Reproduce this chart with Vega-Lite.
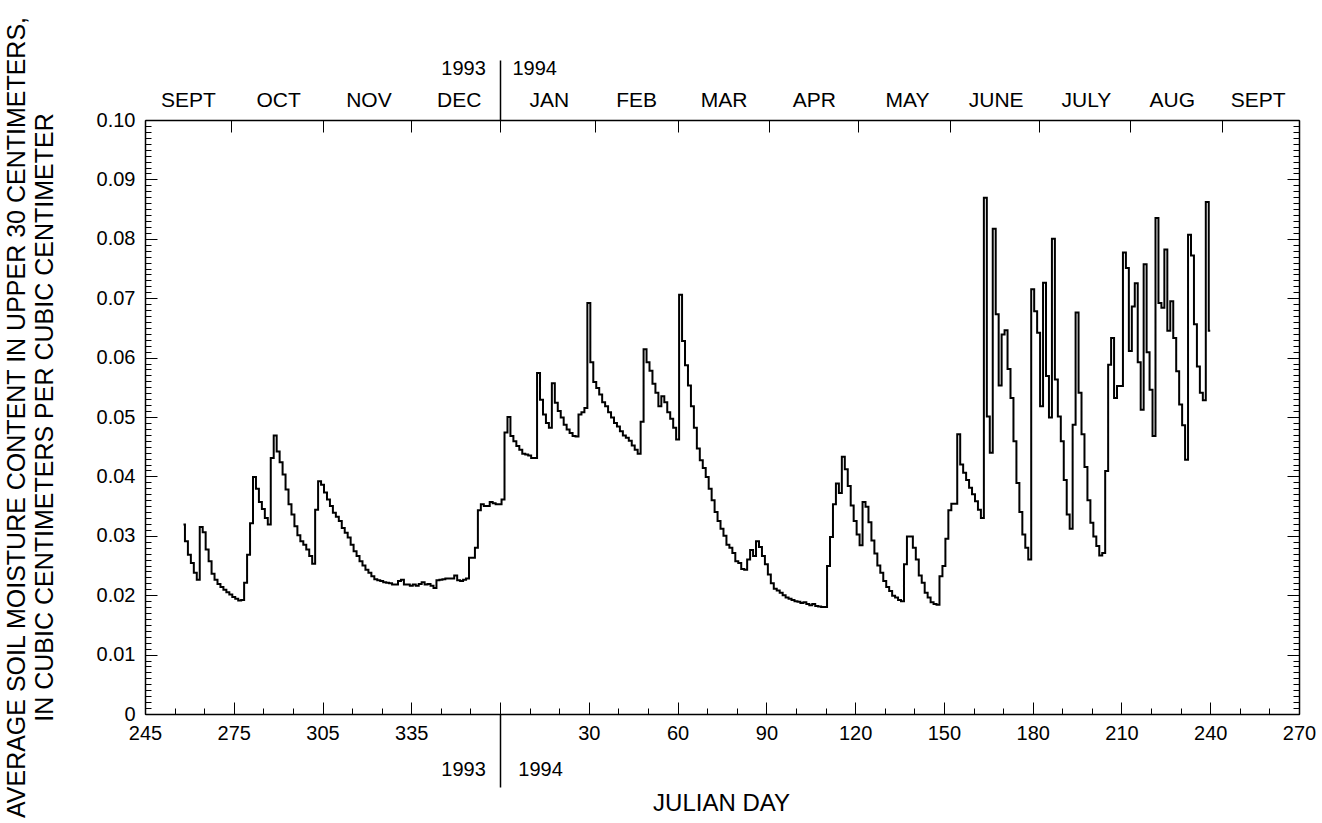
{
  "$schema": "https://vega.github.io/schema/vega-lite/v6.json",
  "width": 1154,
  "height": 594,
  "autosize": {"type": "none"},
  "padding": {"left": 145, "top": 120, "right": 23, "bottom": 109},
  "background": "white",
  "datasets": {
    "moisture": [
      {"day":258,"value":0.0319},{"day":259,"value":0.0291},{"day":260,"value":0.0268},{"day":261,"value":0.0254},{"day":262,"value":0.0238},{"day":263,"value":0.0226},{"day":264,"value":0.0315},{"day":265,"value":0.0306},{"day":266,"value":0.0277},{"day":267,"value":0.0257},{"day":268,"value":0.0236},{"day":269,"value":0.0226},{"day":270,"value":0.0219},{"day":271,"value":0.0214},{"day":272,"value":0.0209},{"day":273,"value":0.0205},{"day":274,"value":0.0201},{"day":275,"value":0.0197},{"day":276,"value":0.0194},{"day":277,"value":0.0191},{"day":278,"value":0.0192},{"day":279,"value":0.0221},
      {"day":280,"value":0.0268},{"day":281,"value":0.0321},{"day":282,"value":0.0399},{"day":283,"value":0.0379},{"day":284,"value":0.0357},{"day":285,"value":0.0345},{"day":286,"value":0.0330},{"day":287,"value":0.0319},{"day":288,"value":0.0431},{"day":289,"value":0.0469},{"day":290,"value":0.0442},{"day":291,"value":0.0424},{"day":292,"value":0.0403},{"day":293,"value":0.0378},{"day":294,"value":0.0353},{"day":295,"value":0.0336},{"day":296,"value":0.0316},{"day":297,"value":0.0301},{"day":298,"value":0.0291},{"day":299,"value":0.0285},
      {"day":300,"value":0.0277},{"day":301,"value":0.0266},{"day":302,"value":0.0253},{"day":303,"value":0.0344},{"day":304,"value":0.0392},{"day":305,"value":0.0386},{"day":306,"value":0.0373},{"day":307,"value":0.0361},{"day":308,"value":0.0350},{"day":309,"value":0.0339},{"day":310,"value":0.0332},{"day":311,"value":0.0325},{"day":312,"value":0.0313},{"day":313,"value":0.0305},{"day":314,"value":0.0297},{"day":315,"value":0.0285},{"day":316,"value":0.0274},{"day":317,"value":0.0266},{"day":318,"value":0.0257},{"day":319,"value":0.0250},
      {"day":320,"value":0.0243},{"day":321,"value":0.0238},{"day":322,"value":0.0232},{"day":323,"value":0.0227},{"day":324,"value":0.0225},{"day":325,"value":0.0224},{"day":326,"value":0.0222},{"day":327,"value":0.0221},{"day":328,"value":0.0220},{"day":329,"value":0.0218},{"day":330,"value":0.0218},{"day":331,"value":0.0224},{"day":332,"value":0.0226},{"day":333,"value":0.0218},{"day":334,"value":0.0218},{"day":335,"value":0.0216},{"day":336,"value":0.0218},{"day":337,"value":0.0216},{"day":338,"value":0.0219},{"day":339,"value":0.0222},
      {"day":340,"value":0.0218},{"day":341,"value":0.0219},{"day":342,"value":0.0216},{"day":343,"value":0.0212},{"day":344,"value":0.0225},{"day":345,"value":0.0226},{"day":346,"value":0.0227},{"day":347,"value":0.0228},{"day":348,"value":0.0228},{"day":349,"value":0.0228},{"day":350,"value":0.0233},{"day":351,"value":0.0225},{"day":352,"value":0.0224},{"day":353,"value":0.0226},{"day":354,"value":0.0228},{"day":355,"value":0.0263},{"day":356,"value":0.0263},{"day":357,"value":0.0280},{"day":358,"value":0.0343},{"day":359,"value":0.0353},
      {"day":360,"value":0.0350},{"day":361,"value":0.0350},{"day":362,"value":0.0357},{"day":363,"value":0.0355},{"day":364,"value":0.0353},{"day":365,"value":0.0353},{"day":366,"value":0.0361},{"day":367,"value":0.0474},{"day":368,"value":0.0500},{"day":369,"value":0.0468},{"day":370,"value":0.0459},{"day":371,"value":0.0451},{"day":372,"value":0.0445},{"day":373,"value":0.0438},{"day":374,"value":0.0437},{"day":375,"value":0.0435},{"day":376,"value":0.0431},{"day":377,"value":0.0431},{"day":378,"value":0.0574},{"day":379,"value":0.0529},
      {"day":380,"value":0.0504},{"day":381,"value":0.0490},{"day":382,"value":0.0482},{"day":383,"value":0.0557},{"day":384,"value":0.0524},{"day":385,"value":0.0510},{"day":386,"value":0.0499},{"day":387,"value":0.0487},{"day":388,"value":0.0479},{"day":389,"value":0.0473},{"day":390,"value":0.0468},{"day":391,"value":0.0467},{"day":392,"value":0.0504},{"day":393,"value":0.0508},{"day":394,"value":0.0515},{"day":395,"value":0.0692},{"day":396,"value":0.0592},{"day":397,"value":0.0559},{"day":398,"value":0.0549},{"day":399,"value":0.0538},
      {"day":400,"value":0.0525},{"day":401,"value":0.0518},{"day":402,"value":0.0508},{"day":403,"value":0.0499},{"day":404,"value":0.0490},{"day":405,"value":0.0484},{"day":406,"value":0.0476},{"day":407,"value":0.0469},{"day":408,"value":0.0465},{"day":409,"value":0.0460},{"day":410,"value":0.0452},{"day":411,"value":0.0445},{"day":412,"value":0.0438},{"day":413,"value":0.0492},{"day":414,"value":0.0614},{"day":415,"value":0.0592},{"day":416,"value":0.0578},{"day":417,"value":0.0556},{"day":418,"value":0.0541},{"day":419,"value":0.0518},
      {"day":420,"value":0.0535},{"day":421,"value":0.0525},{"day":422,"value":0.0508},{"day":423,"value":0.0497},{"day":424,"value":0.0482},{"day":425,"value":0.0462},{"day":426,"value":0.0706},{"day":427,"value":0.0628},{"day":428,"value":0.0587},{"day":429,"value":0.0553},{"day":430,"value":0.0518},{"day":431,"value":0.0482},{"day":432,"value":0.0447},{"day":433,"value":0.0427},{"day":434,"value":0.0414},{"day":435,"value":0.0399},{"day":436,"value":0.0379},{"day":437,"value":0.0360},{"day":438,"value":0.0340},{"day":439,"value":0.0325},
      {"day":440,"value":0.0312},{"day":441,"value":0.0300},{"day":442,"value":0.0285},{"day":443,"value":0.0280},{"day":444,"value":0.0271},{"day":445,"value":0.0257},{"day":446,"value":0.0254},{"day":447,"value":0.0244},{"day":448,"value":0.0243},{"day":449,"value":0.0260},{"day":450,"value":0.0276},{"day":451,"value":0.0266},{"day":452,"value":0.0291},{"day":453,"value":0.0281},{"day":454,"value":0.0266},{"day":455,"value":0.0252},{"day":456,"value":0.0235},{"day":457,"value":0.0220},{"day":458,"value":0.0211},{"day":459,"value":0.0208},
      {"day":460,"value":0.0204},{"day":461,"value":0.0200},{"day":462,"value":0.0196},{"day":463,"value":0.0194},{"day":464,"value":0.0192},{"day":465,"value":0.0190},{"day":466,"value":0.0189},{"day":467,"value":0.0187},{"day":468,"value":0.0188},{"day":469,"value":0.0185},{"day":470,"value":0.0183},{"day":471,"value":0.0185},{"day":472,"value":0.0182},{"day":473,"value":0.0181},{"day":474,"value":0.0180},{"day":475,"value":0.0180},{"day":476,"value":0.0249},{"day":477,"value":0.0298},{"day":478,"value":0.0353},{"day":479,"value":0.0388},
      {"day":480,"value":0.0372},{"day":481,"value":0.0433},{"day":482,"value":0.0412},{"day":483,"value":0.0384},{"day":484,"value":0.0351},{"day":485,"value":0.0325},{"day":486,"value":0.0302},{"day":487,"value":0.0284},{"day":488,"value":0.0357},{"day":489,"value":0.0349},{"day":490,"value":0.0323},{"day":491,"value":0.0292},{"day":492,"value":0.0270},{"day":493,"value":0.0250},{"day":494,"value":0.0238},{"day":495,"value":0.0224},{"day":496,"value":0.0214},{"day":497,"value":0.0207},{"day":498,"value":0.0199},{"day":499,"value":0.0196},
      {"day":500,"value":0.0192},{"day":501,"value":0.0190},{"day":502,"value":0.0252},{"day":503,"value":0.0299},{"day":504,"value":0.0299},{"day":505,"value":0.0280},{"day":506,"value":0.0260},{"day":507,"value":0.0233},{"day":508,"value":0.0221},{"day":509,"value":0.0204},{"day":510,"value":0.0196},{"day":511,"value":0.0188},{"day":512,"value":0.0185},{"day":513,"value":0.0184},{"day":514,"value":0.0232},{"day":515,"value":0.0249},{"day":516,"value":0.0295},{"day":517,"value":0.0343},{"day":518,"value":0.0354},{"day":519,"value":0.0354},
      {"day":520,"value":0.0471},{"day":521,"value":0.0420},{"day":522,"value":0.0406},{"day":523,"value":0.0394},{"day":524,"value":0.0381},{"day":525,"value":0.0370},{"day":526,"value":0.0358},{"day":527,"value":0.0344},{"day":528,"value":0.0330},{"day":529,"value":0.0869},{"day":530,"value":0.0501},{"day":531,"value":0.0440},{"day":532,"value":0.0817},{"day":533,"value":0.0673},{"day":534,"value":0.0553},{"day":535,"value":0.0639},{"day":536,"value":0.0646},{"day":537,"value":0.0581},{"day":538,"value":0.0532},{"day":539,"value":0.0459},
      {"day":540,"value":0.0389},{"day":541,"value":0.0340},{"day":542,"value":0.0302},{"day":543,"value":0.0280},{"day":544,"value":0.0260},{"day":545,"value":0.0715},{"day":546,"value":0.0678},{"day":547,"value":0.0642},{"day":548,"value":0.0518},{"day":549,"value":0.0726},{"day":550,"value":0.0569},{"day":551,"value":0.0499},{"day":552,"value":0.0800},{"day":553,"value":0.0563},{"day":554,"value":0.0501},{"day":555,"value":0.0459},{"day":556,"value":0.0394},{"day":557,"value":0.0336},{"day":558,"value":0.0312},{"day":559,"value":0.0487},
      {"day":560,"value":0.0676},{"day":561,"value":0.0541},{"day":562,"value":0.0471},{"day":563,"value":0.0416},{"day":564,"value":0.0360},{"day":565,"value":0.0322},{"day":566,"value":0.0299},{"day":567,"value":0.0283},{"day":568,"value":0.0267},{"day":569,"value":0.0271},{"day":570,"value":0.0409},{"day":571,"value":0.0588},{"day":572,"value":0.0633},{"day":573,"value":0.0532},{"day":574,"value":0.0552},{"day":575,"value":0.0552},{"day":576,"value":0.0777},{"day":577,"value":0.0751},{"day":578,"value":0.0611},{"day":579,"value":0.0686},
      {"day":580,"value":0.0725},{"day":581,"value":0.0592},{"day":582,"value":0.0512},{"day":583,"value":0.0757},{"day":584,"value":0.0609},{"day":585,"value":0.0546},{"day":586,"value":0.0468},{"day":587,"value":0.0835},{"day":588,"value":0.0692},{"day":589,"value":0.0684},{"day":590,"value":0.0782},{"day":591,"value":0.0645},{"day":592,"value":0.0695},{"day":593,"value":0.0633},{"day":594,"value":0.0577},{"day":595,"value":0.0521},{"day":596,"value":0.0486},{"day":597,"value":0.0428},{"day":598,"value":0.0807},{"day":599,"value":0.0772},
      {"day":600,"value":0.0656},{"day":601,"value":0.0585},{"day":602,"value":0.0541},{"day":603,"value":0.0528},{"day":604,"value":0.0862},{"day":605,"value":0.0645}
    ],
    "anchor": [{"day": 245, "value": 0}]
  },
  "config": {
    "view": {"stroke": null},
    "axis": {
      "grid": false,
      "labelFont": "Liberation Sans",
      "titleFont": "Liberation Sans",
      "labelColor": "black",
      "titleColor": "black",
      "tickColor": "black",
      "domainColor": "black",
      "titleFontWeight": "normal",
      "labelFlush": false,
      "labelOverlap": false,
      "labelBound": false,
      "tickWidth": 1,
      "domainWidth": 1.5
    }
  },
  "resolve": {"axis": {"x": "independent", "y": "independent"}},
  "layer": [
    {
      "data": {"name": "moisture"},
      "mark": {"type": "line", "interpolate": "step", "color": "black", "strokeWidth": 2},
      "encoding": {
        "x": {"field": "day", "type": "quantitative", "scale": {"domain": [245, 635], "nice": false, "zero": false},
          "axis": {"orient": "bottom", "values": [245,275,305,335,395,425,455,485,515,545,575,605,635],
            "labelExpr": "datum.value > 365 ? datum.value - 365 : datum.value",
            "ticks": false, "domain": true, "labelFontSize": 20, "labelPadding": 9,
            "title": "JULIAN DAY", "titleFontSize": 24, "titleX": 576, "titleY": 89, "titleBaseline": "middle", "titleAnchor": null}},
        "y": {"field": "value", "type": "quantitative", "scale": {"domain": [0, 0.1], "nice": false, "zero": false},
          "axis": {"orient": "left", "values": [0,0.01,0.02,0.03,0.04,0.05,0.06,0.07,0.08,0.09,0.1],
            "labelExpr": "datum.value == 0 ? '0' : format(datum.value, '.2f')",
            "ticks": false, "domain": true, "labelFontSize": 20, "labelPadding": 10,
            "title": ["AVERAGE SOIL MOISTURE CONTENT IN UPPER 30 CENTIMETERS,", "IN CUBIC CENTIMETERS PER CUBIC CENTIMETER"],
            "titleFontSize": 25, "titleLineHeight": 28, "titleAngle": -90, "titleX": -129, "titleY": 297,
            "titleBaseline": "middle", "titleAlign": "center"}}
      }
    },
    {
      "data": {"name": "anchor"},
      "mark": {"type": "point", "opacity": 0},
      "encoding": {
        "x": {"field": "day", "type": "quantitative", "scale": {"domain": [245, 635], "nice": false, "zero": false},
          "axis": {"orient": "top", "offset": -594, "values": [245,275,305,335,365,395,425,455,485,515,545,575,605,635],
            "tickSize": 12, "labels": false, "domain": false, "title": null}},
        "y": {"field": "value", "type": "quantitative", "scale": {"domain": [0, 0.1], "nice": false, "zero": false},
          "axis": {"orient": "right", "offset": -1154, "values": [0,0.01,0.02,0.03,0.04,0.05,0.06,0.07,0.08,0.09,0.1],
            "tickSize": 12, "labels": false, "domain": false, "title": null}}
      }
    },
    {
      "data": {"name": "anchor"},
      "mark": {"type": "point", "opacity": 0},
      "encoding": {
        "x": {"field": "day", "type": "quantitative", "scale": {"domain": [245, 635], "nice": false, "zero": false},
          "axis": {"orient": "top", "offset": -594, "values": [245,255,265,275,285,295,305,315,325,335,345,355,365,375,385,395,405,415,425,435,445,455,465,475,485,495,505,515,525,535,545,555,565,575,585,595,605,615,625,635],
            "tickSize": 6, "labels": false, "domain": false, "title": null}},
        "y": {"field": "value", "type": "quantitative", "scale": {"domain": [0, 0.1], "nice": false, "zero": false},
          "axis": {"orient": "right", "offset": -1154, "values": [0,0.001,0.002,0.003,0.004,0.005,0.006,0.007,0.008,0.009,0.01,0.011,0.012,0.013,0.014,0.015,0.016,0.017,0.018,0.019,0.02,0.021,0.022,0.023,0.024,0.025,0.026,0.027,0.028,0.029,0.03,0.031,0.032,0.033,0.034,0.035,0.036,0.037,0.038,0.039,0.04,0.041,0.042,0.043,0.044,0.045,0.046,0.047,0.048,0.049,0.05,0.051,0.052,0.053,0.054,0.055,0.056,0.057,0.058,0.059,0.06,0.061,0.062,0.063,0.064,0.065,0.066,0.067,0.068,0.069,0.07,0.071,0.072,0.073,0.074,0.075,0.076,0.077,0.078,0.079,0.08,0.081,0.082,0.083,0.084,0.085,0.086,0.087,0.088,0.089,0.09,0.091,0.092,0.093,0.094,0.095,0.096,0.097,0.098,0.099,0.1],
            "tickSize": 6, "labels": false, "domain": false, "title": null}}
      }
    },
    {
      "data": {"name": "anchor"},
      "mark": {"type": "point", "opacity": 0},
      "encoding": {
        "x": {"field": "day", "type": "quantitative", "scale": {"domain": [245, 635], "nice": false, "zero": false},
          "axis": {"orient": "bottom", "offset": -594, "values": [274,305,335,365,397,425,456,486,517,547,578,609],
            "tickSize": 12, "labels": false, "domain": true, "title": null}},
        "y": {"field": "value", "type": "quantitative", "scale": {"domain": [0, 0.1], "nice": false, "zero": false},
          "axis": {"orient": "left", "offset": -1154, "values": [0,0.01,0.02,0.03,0.04,0.05,0.06,0.07,0.08,0.09,0.1],
            "tickSize": 12, "labels": false, "domain": true, "title": null}}
      }
    },
    {
      "data": {"name": "anchor"},
      "mark": {"type": "point", "opacity": 0},
      "encoding": {
        "x": {"field": "day", "type": "quantitative", "scale": {"domain": [245, 635], "nice": false, "zero": false},
          "axis": {"orient": "top", "values": [259.5,290,320.5,351,381.5,411,440.5,471,502.5,532.5,563,592,621],
            "labelExpr": "datum.value < 270 ? 'SEPT' : datum.value < 300 ? 'OCT' : datum.value < 330 ? 'NOV' : datum.value < 360 ? 'DEC' : datum.value < 395 ? 'JAN' : datum.value < 425 ? 'FEB' : datum.value < 455 ? 'MAR' : datum.value < 485 ? 'APR' : datum.value < 515 ? 'MAY' : datum.value < 545 ? 'JUNE' : datum.value < 575 ? 'JULY' : datum.value < 605 ? 'AUG' : 'SEPT'",
            "ticks": false, "domain": false, "labelFontSize": 21, "labelPadding": 10, "title": null}},
        "y": {"field": "value", "type": "quantitative", "scale": {"domain": [0, 0.1], "nice": false, "zero": false},
          "axis": {"orient": "left", "offset": -1154, "values": [0,0.001,0.002,0.003,0.004,0.005,0.006,0.007,0.008,0.009,0.01,0.011,0.012,0.013,0.014,0.015,0.016,0.017,0.018,0.019,0.02,0.021,0.022,0.023,0.024,0.025,0.026,0.027,0.028,0.029,0.03,0.031,0.032,0.033,0.034,0.035,0.036,0.037,0.038,0.039,0.04,0.041,0.042,0.043,0.044,0.045,0.046,0.047,0.048,0.049,0.05,0.051,0.052,0.053,0.054,0.055,0.056,0.057,0.058,0.059,0.06,0.061,0.062,0.063,0.064,0.065,0.066,0.067,0.068,0.069,0.07,0.071,0.072,0.073,0.074,0.075,0.076,0.077,0.078,0.079,0.08,0.081,0.082,0.083,0.084,0.085,0.086,0.087,0.088,0.089,0.09,0.091,0.092,0.093,0.094,0.095,0.096,0.097,0.098,0.099,0.1],
            "tickSize": 6, "labels": false, "domain": false, "title": null}}
      }
    },
    {
      "data": {"name": "anchor"},
      "mark": {"type": "point", "opacity": 0},
      "encoding": {
        "x": {"field": "day", "type": "quantitative", "scale": {"domain": [245, 635], "nice": false, "zero": false},
          "axis": {"orient": "top", "values": [365], "tickSize": 60, "tickWidth": 1.5, "labels": false, "domain": false, "title": null}},
        "y": {"field": "value", "type": "quantitative", "scale": {"domain": [0, 0.1], "nice": false, "zero": false}, "axis": null}
      }
    },
    {
      "data": {"name": "anchor"},
      "mark": {"type": "point", "opacity": 0},
      "encoding": {
        "x": {"field": "day", "type": "quantitative", "scale": {"domain": [245, 635], "nice": false, "zero": false},
          "axis": {"orient": "top", "values": [360, 369], "labelExpr": "datum.value < 365 ? '1993' : '1994'",
            "labelAlign": {"condition": {"test": "datum.value < 365", "value": "right"}, "value": "left"},
            "ticks": false, "domain": false, "labelFontSize": 20, "labelPadding": 42, "title": null}},
        "y": {"field": "value", "type": "quantitative", "scale": {"domain": [0, 0.1], "nice": false, "zero": false}, "axis": null}
      }
    },
    {
      "data": {"name": "anchor"},
      "mark": {"type": "point", "opacity": 0},
      "encoding": {
        "x": {"field": "day", "type": "quantitative", "scale": {"domain": [245, 635], "nice": false, "zero": false},
          "axis": {"orient": "bottom", "values": [365], "tickSize": 73, "tickWidth": 1.5, "labels": false, "domain": false, "title": null}},
        "y": {"field": "value", "type": "quantitative", "scale": {"domain": [0, 0.1], "nice": false, "zero": false}, "axis": null}
      }
    },
    {
      "data": {"name": "anchor"},
      "mark": {"type": "point", "opacity": 0},
      "encoding": {
        "x": {"field": "day", "type": "quantitative", "scale": {"domain": [245, 635], "nice": false, "zero": false},
          "axis": {"orient": "bottom", "values": [360, 371], "labelExpr": "datum.value < 365 ? '1993' : '1994'",
            "labelAlign": {"condition": {"test": "datum.value < 365", "value": "right"}, "value": "left"},
            "ticks": false, "domain": false, "labelFontSize": 20, "labelPadding": 45, "title": null}},
        "y": {"field": "value", "type": "quantitative", "scale": {"domain": [0, 0.1], "nice": false, "zero": false}, "axis": null}
      }
    }
  ]
}
